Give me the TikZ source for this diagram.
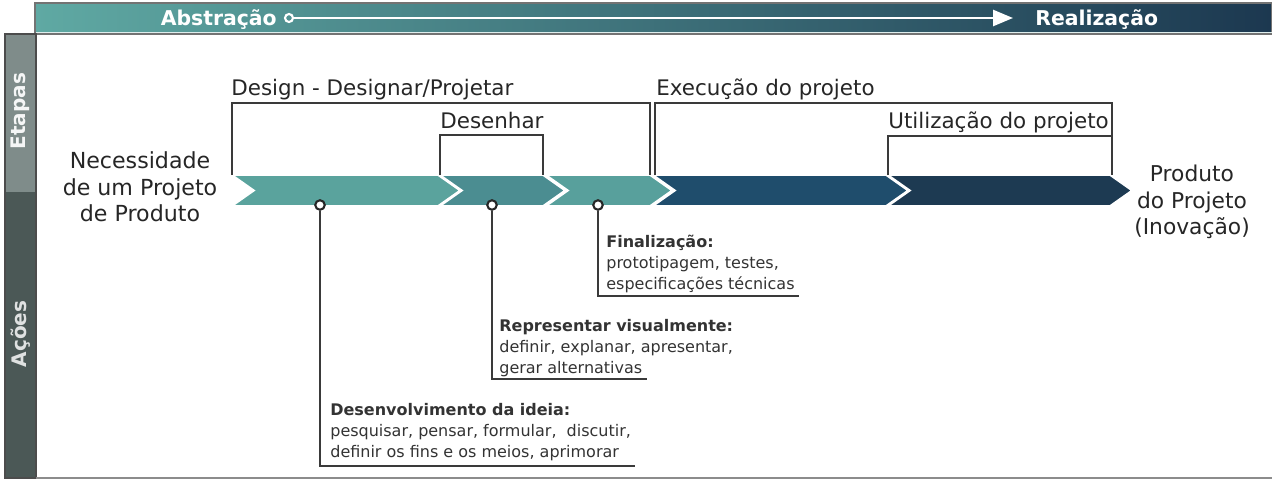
\documentclass[tikz,border=0pt]{standalone}
\usepackage{fontspec}
\setmainfont{DejaVu Sans}
\usetikzlibrary{arrows.meta}

\definecolor{tealA}{HTML}{5AA39D}
\definecolor{tealB}{HTML}{4B8D91}
\definecolor{tealC}{HTML}{58A09C}
\definecolor{navyA}{HTML}{1F4D6C}
\definecolor{navyB}{HTML}{1D3A52}
\definecolor{barL}{HTML}{5FA9A3}
\definecolor{barR}{HTML}{1C3850}
\definecolor{sideA}{HTML}{7F8C8A}
\definecolor{sideB}{HTML}{4B5856}
\definecolor{traco}{HTML}{3A3A3A}

\tikzset{
  etapa/.style={font=\fontsize{12.2}{14}\selectfont, text=black!85, inner sep=0pt, anchor=base west},
  acao/.style={font=\fontsize{9.1}{11.9}\selectfont, text=black!80, inner sep=0pt, anchor=base west, align=left},
  marco/.style={circle, draw=black!85, fill=white, line width=1.2pt, minimum size=0.19cm, inner sep=0pt},
  chave/.style={draw=traco, line width=0.9pt},
  fio/.style={draw=traco, line width=0.9pt},
  lateral/.style={rotate=90, font=\fontsize{11.4}{13}\selectfont\bfseries}
}

\begin{document}
\begin{tikzpicture}[x=0.02cm, y=-0.02cm]
\useasboundingbox (0,0) rectangle (1272,480);
\def\seta#1#2#3{\fill[#3, draw=white, line width=1pt]
    (#1,175) -- (#2,175) -- ({#2+22},190.5) -- (#2,206) -- (#1,206) -- ({#1+22},190.5) -- cycle;}

% Barra superior: Abstracao -> Realizacao
\shade[left color=barL, right color=barR, draw=black!55, line width=0.6pt]
    (35,3) rectangle (1272,34);
\draw[white!80!barL, line width=0.8pt] (36,32.5) -- (1272,32.5);
\node[font=\fontsize{11.6}{13}\selectfont\bfseries, text=white, inner sep=0pt, anchor=base east]
    (abstr) at (277,25.5) {Abstração};
\node[font=\fontsize{11.6}{13}\selectfont\bfseries, text=white, inner sep=0pt, anchor=base west]
    (realiz) at (1035,25.5) {Realização};
\node[circle, draw=white, line width=1.2pt, minimum size=0.16cm, inner sep=0pt] (ini) at (289,18) {};
\coordinate (fim) at (1013,18);
\draw[white, line width=1.5pt, -{Triangle[length=0.4cm, width=0.32cm]}] (ini) -- (fim);

% Coluna lateral
\fill[sideA] (5,34) rectangle (36,192);
\fill[sideB] (5,192) rectangle (36,478);
\draw[black!70, line width=0.8pt] (5,34) rectangle (36,478);
\draw[black!45, line width=1pt] (36,478) -- (1272,478);
\node[lateral, text=white!92!sideA] (etapas) at (20.5,111) {Etapas};
\node[lateral, text=white!82!sideB] (acoes) at (20.5,334) {Ações};

% Setas das etapas
\seta{232}{438}{tealA}
\seta{440}{543}{tealB}
\seta{546}{650}{tealC}
\seta{653}{886}{navyA}
\seta{888}{1110}{navyB}

% Chaves por cima das setas
\draw[chave] (232,175) -- (232,103) -- (650,103) -- (650,175);
\draw[chave] (440,175) -- (440,135) -- (543,135) -- (543,175);
\draw[chave] (655,175) -- (655,103) -- (1112,103) -- (1112,175);
\draw[chave] (888,175) -- (888,136) -- (1112,136);

\node[etapa] (design) at (231,95) {Design - Designar/Projetar};
\node[etapa] (desenhar) at (440,128) {Desenhar};
\node[etapa] (execucao) at (656,95) {Execução do projeto};
\node[etapa] (utiliz) at (888,128) {Utilização do projeto};

% Inicio e fim
\node[align=center, font=\fontsize{12.6}{15.2}\selectfont, text=black!85] (neces) at (140,187)
    {Necessidade\\de um Projeto\\de Produto};
\node[align=center, font=\fontsize{12.4}{15.2}\selectfont, text=black!85] (produto) at (1192,202)
    {Produto\\do Projeto\\(Inovação)};

% Acoes (ancora na linha de base da ultima linha)
\node[marco] (m1) at (320,205) {};
\node[marco] (m2) at (492,205) {};
\node[marco] (m3) at (598,205) {};

\node[acao] (a3) at (606,289)
    {\textbf{Finalização:}\\prototipagem, testes,\\especificações técnicas};
\node[acao] (a2) at (499,373)
    {\textbf{Representar visualmente:}\\definir, explanar, apresentar,\\gerar alternativas};
\node[acao] (a1) at (330,457)
    {\textbf{Desenvolvimento da ideia:}\\pesquisar, pensar, formular,\ \ discutir,\\definir os fins e os meios, aprimorar};

\coordinate (e3) at (799,296);
\coordinate (e2) at (647,379);
\coordinate (e1) at (635,466);
\draw[fio] (m3) -- (m3 |- e3) -- (e3);
\draw[fio] (m2) -- (m2 |- e2) -- (e2);
\draw[fio] (m1) -- (m1 |- e1) -- (e1);
\end{tikzpicture}
\end{document}
